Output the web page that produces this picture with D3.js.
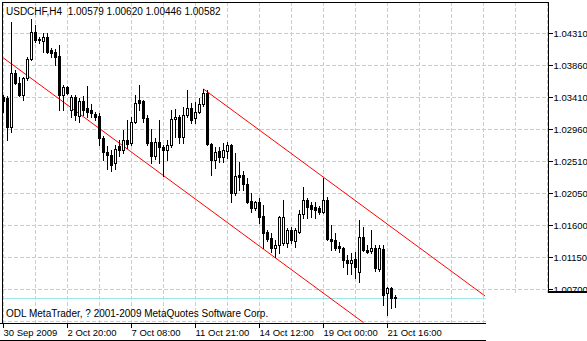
<!DOCTYPE html>
<html><head><meta charset="utf-8">
<script src="https://cdn.jsdelivr.net/npm/d3@7"></script>
<style>html,body{margin:0;padding:0;background:#fff;overflow:hidden}text{font-family:"Liberation Sans",Arial,sans-serif;fill:#000}</style>
</head><body><svg id="c" width="587" height="341"></svg>
<script>
// ---- data (USDCHF, H4) ----
const openP  = [1.03408,1.03393,1.02984,1.03746,1.03605,1.03436,1.03675,1.03943,1.04324,1.04225,
1.04197,1.04254,1.04070,1.04042,1.03986,1.03436,1.03548,1.03224,1.03408,1.03140,
1.03351,1.03252,1.03224,1.03168,1.03140,1.02829,1.02632,1.02590,1.02477,1.02717,
1.02660,1.02801,1.02759,1.03055,1.03365,1.03351,1.03111,1.02773,1.02575,1.02773,
1.02702,1.02660,1.02731,1.03097,1.03125,1.02843,1.03154,1.03252,1.03111,1.03196,
1.03309,1.03464,1.02745,1.02519,1.02646,1.02561,1.02646,1.02731,1.02054,1.02308,
1.02308,1.02181,1.01941,1.01842,1.01927,1.01729,1.01504,1.01419,1.01278,1.01320,
1.01349,1.01349,1.01532,1.01377,1.01504,1.01758,1.01955,1.01885,1.01856,1.01842,
1.01786,1.01955,1.01405,1.01391,1.01306,1.01278,1.01109,1.01067,1.01123,1.00940,
1.01433,1.01250,1.01236,1.01278,1.00982,1.01264,1.00644,1.00714,1.00579];
const highP  = [1.03436,1.03422,1.04465,1.03788,1.03690,1.03690,1.03972,1.04507,1.04423,1.04254,
1.04310,1.04310,1.04099,1.04084,1.04141,1.03577,1.03563,1.03436,1.03436,1.03393,
1.03422,1.03563,1.03309,1.03196,1.03182,1.02857,1.02717,1.02660,1.02731,1.02801,
1.02942,1.03083,1.03125,1.03436,1.03577,1.03365,1.03154,1.02956,1.02829,1.03083,
1.02731,1.02801,1.03224,1.03238,1.03154,1.03266,1.03506,1.03323,1.03337,1.03393,
1.03520,1.03506,1.02759,1.02702,1.02702,1.02759,1.02773,1.02745,1.02618,1.02491,
1.02364,1.02265,1.02054,1.01941,1.01983,1.01885,1.01532,1.01490,1.01391,1.01729,
1.01955,1.01560,1.01574,1.01560,1.01814,1.02138,1.01983,1.01927,1.01927,1.01870,
1.02265,1.01997,1.01603,1.01490,1.01363,1.01292,1.01179,1.01208,1.01222,1.01673,
1.01574,1.01320,1.01532,1.01320,1.01320,1.01320,1.00728,1.00728,1.00620];
const lowP   = [1.03196,1.02801,1.02914,1.03591,1.03422,1.03365,1.03647,1.03929,1.04183,1.04169,
1.04042,1.04028,1.03972,1.03859,1.03224,1.03224,1.03450,1.03125,1.03083,1.03055,
1.03154,1.03125,1.03125,1.03083,1.02731,1.02519,1.02392,1.02364,1.02392,1.02575,
1.02618,1.02688,1.02731,1.03041,1.03224,1.03055,1.02731,1.02477,1.02533,1.02477,
1.02293,1.02519,1.02702,1.02843,1.02759,1.02759,1.03125,1.03041,1.03041,1.03182,
1.03281,1.02731,1.02308,1.02406,1.02491,1.02491,1.02547,1.01927,1.02026,1.02096,
1.02096,1.01913,1.01786,1.01814,1.01631,1.01278,1.01377,1.01222,1.01151,1.01208,
1.01320,1.01292,1.01349,1.01292,1.01490,1.01701,1.01701,1.01715,1.01701,1.01758,
1.01772,1.01391,1.01250,1.01250,1.01222,1.01010,1.00912,1.00912,1.00855,1.00799,
1.01236,1.01208,1.01208,1.00954,1.00954,1.00474,1.00333,1.00432,1.00446];
const closeP = [1.03351,1.02984,1.03746,1.03605,1.03436,1.03675,1.03943,1.04324,1.04211,1.04211,
1.04254,1.04042,1.04028,1.03972,1.03436,1.03548,1.03464,1.03408,1.03154,1.03351,
1.03224,1.03196,1.03182,1.03125,1.02829,1.02632,1.02590,1.02449,1.02674,1.02660,
1.02801,1.02745,1.03055,1.03323,1.03323,1.03111,1.02759,1.02575,1.02773,1.02702,
1.02660,1.02731,1.03097,1.03125,1.02843,1.03154,1.03252,1.03083,1.03196,1.03309,
1.03464,1.02745,1.02519,1.02632,1.02561,1.02660,1.02731,1.02054,1.02293,1.02279,
1.02181,1.01927,1.01842,1.01927,1.01715,1.01490,1.01405,1.01278,1.01320,1.01715,
1.01715,1.01532,1.01391,1.01532,1.01758,1.01955,1.01856,1.01828,1.01814,1.01786,
1.01955,1.01405,1.01377,1.01278,1.01278,1.01109,1.01067,1.01109,1.01010,1.01433,
1.01250,1.01222,1.01278,1.00996,1.01278,1.00615,1.00714,1.00573,1.00582];
const priceTicks = [1.04310,1.03860,1.03410,1.02960,1.02510,1.02050,1.01600,1.01150,1.00700];
const timeLabels = ["30 Sep 2009","2 Oct 20:00","7 Oct 08:00","11 Oct 21:00","14 Oct 12:00","19 Oct 00:00","21 Oct 16:00"];
const timeLabelBars = [0,16,32,48,64,80,96];
const headerText = "USDCHF,H4  1.00579 1.00620 1.00446 1.00582";
const footerText = "ODL MetaTrader, ? 2001-2009 MetaQuotes Software Corp.";
const bidPrice = 1.00582;
const channelUpper = [[50,1.03520],[120.4,1.00601]];
const channelLower = [[0,1.03957],[90,1.00226]];

// ---- layout ----
const svg = d3.select('#c');
const L = 2, T = 2, R = 548, B = 323;
const x = d3.scaleLinear().domain([0,1]).range([3.5,7.5]);
const y = d3.scaleLinear().domain([1.00700,1.04310]).range([289,33]);
const gridColor = '#a2e0dc';

svg.append('defs').append('clipPath').attr('id','plotClip')
  .append('rect').attr('x',L+1).attr('y',T+1).attr('width',R-L-1).attr('height',B-T-1);

const plot = svg.append('g').attr('clip-path','url(#plotClip)');

// grid
const step = (priceTicks[0]-priceTicks[priceTicks.length-1])/(priceTicks.length-1);
const gridPrices = priceTicks.concat([priceTicks[priceTicks.length-1]-step]);
plot.selectAll('line.hg').data(gridPrices).join('line').attr('class','hg')
  .attr('x1',L).attr('x2',R).attr('y1',d=>Math.round(y(d))+0.5).attr('y2',d=>Math.round(y(d))+0.5)
  .attr('stroke',gridColor).attr('stroke-dasharray','4,2').attr('shape-rendering','crispEdges');
const gridBars = d3.range(0,137,8);
plot.selectAll('line.vg').data(gridBars).join('line').attr('class','vg')
  .attr('x1',d=>x(d)).attr('x2',d=>x(d)).attr('y1',T).attr('y2',B)
  .attr('stroke',gridColor).attr('stroke-dasharray','4,2').attr('shape-rendering','crispEdges');

// bid line
plot.append('line').attr('x1',L).attr('x2',R)
  .attr('y1',Math.round(y(bidPrice))+1.5).attr('y2',Math.round(y(bidPrice))+1.5)
  .attr('stroke','#9fe4e6').attr('shape-rendering','crispEdges');

// channels
[channelUpper, channelLower].forEach(c=>{
  plot.append('line')
    .attr('x1',x(c[0][0])).attr('y1',y(c[0][1]))
    .attr('x2',x(c[1][0])).attr('y2',y(c[1][1]))
    .attr('stroke','#ff0000').attr('stroke-width',1);
});

// candles
const candles = openP.map((o,i)=>({i,o,h:highP[i],l:lowP[i],c:closeP[i]}));
plot.selectAll('line.wick').data(candles).join('line').attr('class','wick')
  .attr('x1',d=>x(d.i)).attr('x2',d=>x(d.i))
  .attr('y1',d=>Math.round(y(d.h))).attr('y2',d=>Math.round(y(d.l))+1)
  .attr('stroke','#000').attr('shape-rendering','crispEdges');
candles.forEach(d=>{
  const yo = Math.round(y(d.o)), yc = Math.round(y(d.c));
  const cx = x(d.i);
  if (yo === yc) {
    plot.append('rect').attr('x',cx-1.5).attr('y',yo).attr('width',3).attr('height',1)
      .attr('fill','#000').attr('shape-rendering','crispEdges');
  } else if (d.c > d.o) {
    plot.append('rect').attr('x',cx-1).attr('y',yc+0.5).attr('width',2).attr('height',yo-yc)
      .attr('fill','#fff').attr('stroke','#000').attr('shape-rendering','crispEdges');
  } else {
    plot.append('rect').attr('x',cx-1.5).attr('y',yo).attr('width',3).attr('height',yc-yo+1)
      .attr('fill','#000').attr('shape-rendering','crispEdges');
  }
});

// frame
svg.append('rect').attr('x',L+0.5).attr('y',T+0.5).attr('width',R-L).attr('height',B-T)
  .attr('fill','none').attr('stroke','#000').attr('shape-rendering','crispEdges');
svg.append('line').attr('x1',0).attr('x2',L).attr('y1',B+0.5).attr('y2',B+0.5)
  .attr('stroke','#000').attr('shape-rendering','crispEdges');

// price axis
svg.selectAll('line.yt').data(priceTicks).join('line').attr('class','yt')
  .attr('x1',R+1).attr('x2',R+5).attr('y1',d=>Math.round(y(d))+0.5).attr('y2',d=>Math.round(y(d))+0.5)
  .attr('stroke','#000').attr('shape-rendering','crispEdges');
svg.selectAll('text.yl').data(priceTicks).join('text').attr('class','yl')
  .attr('x',R+5.5).attr('y',d=>Math.round(y(d))+3.5).attr('font-size','9.5px')
  .text(d=>d.toFixed(5));

// time axis
svg.selectAll('line.xt').data(timeLabelBars).join('line').attr('class','xt')
  .attr('x1',d=>x(d)).attr('x2',d=>x(d)).attr('y1',B+1).attr('y2',B+5)
  .attr('stroke','#000').attr('shape-rendering','crispEdges');
svg.selectAll('text.xl').data(timeLabelBars).join('text').attr('class','xl')
  .attr('x',(d)=>x(d)).attr('y',335.5).attr('font-size','9.5px')
  .text((d,i)=>timeLabels[i]);

// texts
svg.append('text').attr('x',6).attr('y',15).attr('font-size','10px')
  .style('white-space','pre').text(headerText);
svg.append('text').attr('x',6).attr('y',317).attr('font-size','10px').text(footerText);

// bottom-right occluded area of the screenshot
svg.append('rect').attr('x',486).attr('y',293).attr('width',101).attr('height',48).attr('fill','#fff');
svg.append('rect').attr('x',R).attr('y',291).attr('width',587-R).attr('height',2).attr('fill','#000');
svg.append('line').attr('x1',0).attr('x2',486).attr('y1',340.5).attr('y2',340.5)
  .attr('stroke','#000').attr('shape-rendering','crispEdges');
</script></body></html>
